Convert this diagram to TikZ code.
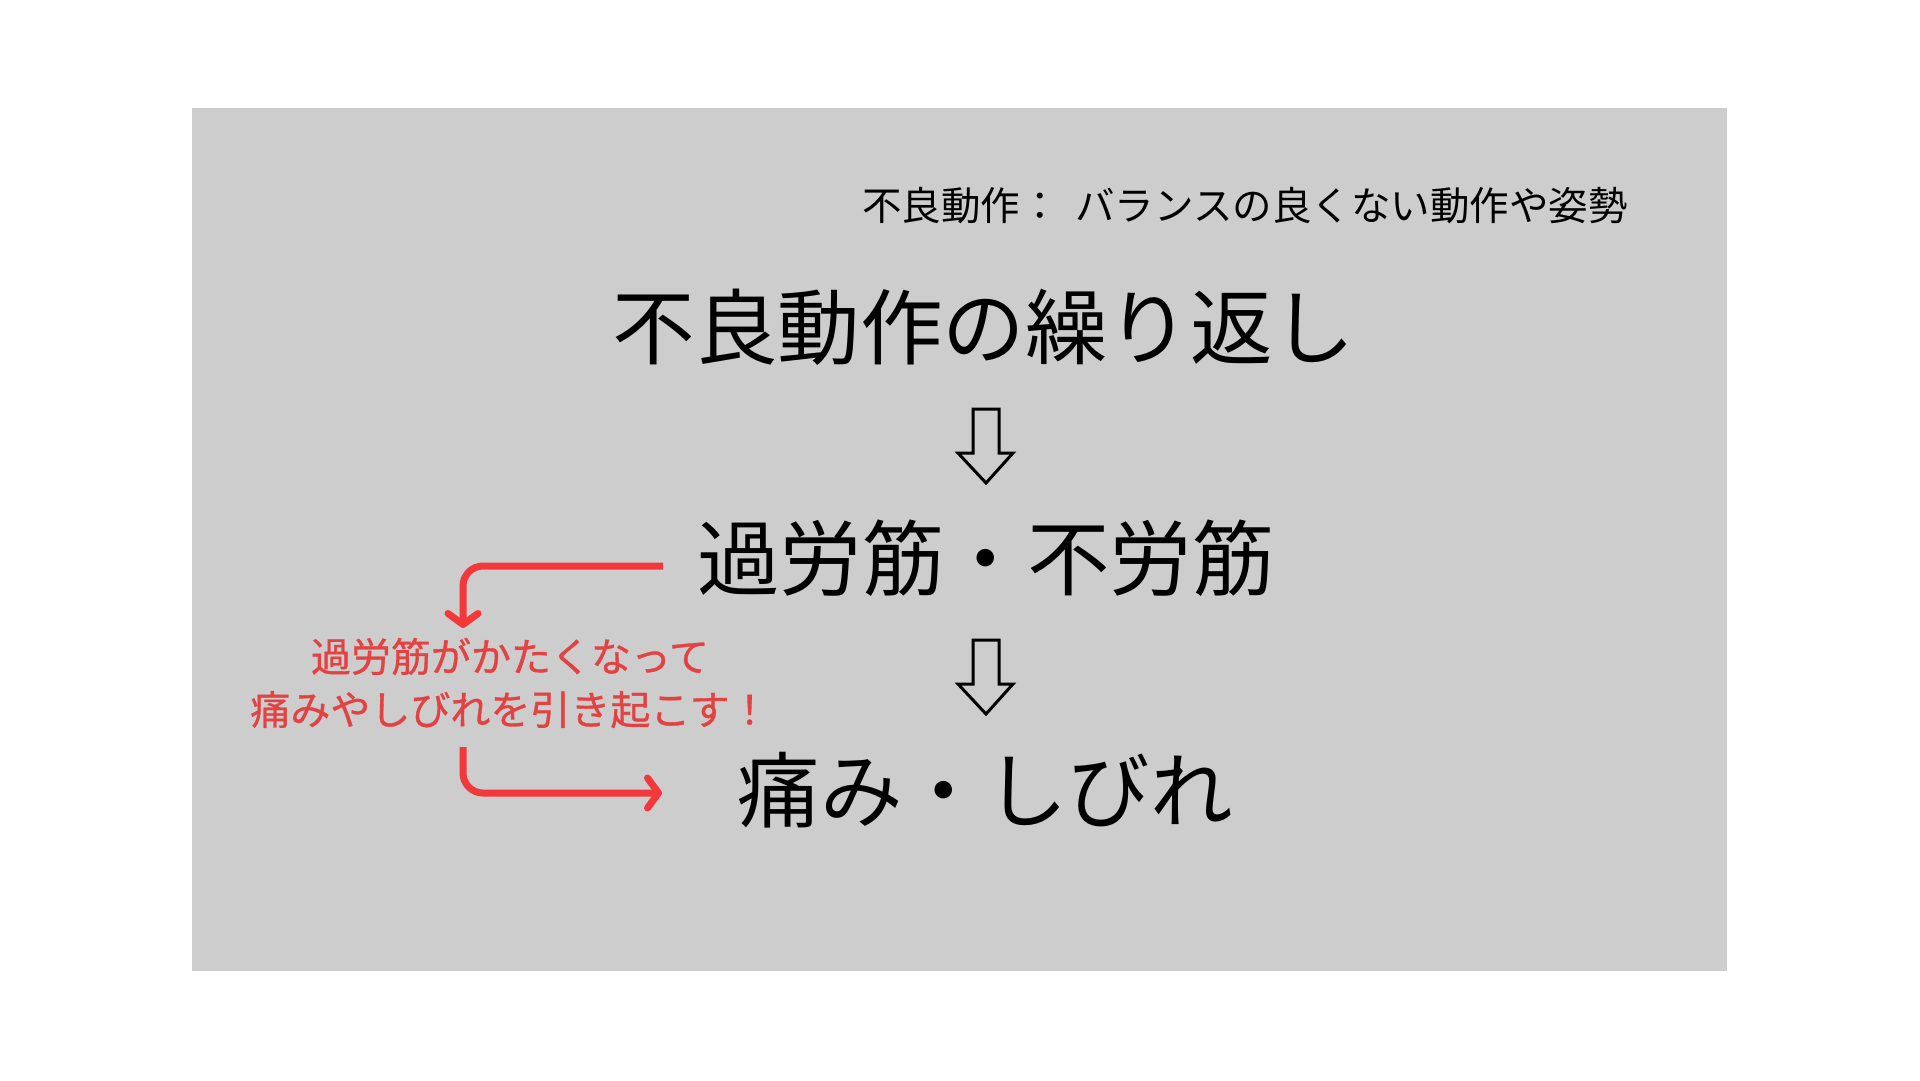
\documentclass[tikz,border=0pt]{standalone}
\usepackage{fontspec}
\setmainfont{Noto Sans CJK JP}
\newfontfamily\jp{Noto Sans CJK JP}
\newfontfamily\jpred[FakeBold=0.8]{Noto Sans CJK JP}
\usetikzlibrary{arrows.meta}
\definecolor{bggray}{RGB}{205,205,205}
\definecolor{arrred}{RGB}{242,56,58}
\definecolor{txtred}{RGB}{226,66,66}
\tikzset{
  jtxt/.style={inner sep=0pt, text=black, font=\jp},
  hollow/.style={draw=black, line width=3pt, fill=bggray, line join=miter},
  redarrow/.style={draw=arrred, line width=7pt, rounded corners=20pt,
    -{Straight Barb[length=11pt,width=30pt,round]}},
}
\begin{document}
\begin{tikzpicture}[x=1pt,y=-1pt]
\useasboundingbox (0,0) rectangle (1920,1080);
\fill[white] (0,0) rectangle (1920,1080);
\fill[bggray] (192,108) rectangle (1727,971);

\node[jtxt, anchor=west, font=\jp\fontsize{39.5}{45}\selectfont] (note) at (862,206) {不良動作：\hspace{0.4em}バランスの良くない動作や姿勢};
\node[jtxt, font=\jp\fontsize{82.5}{90}\selectfont] (title) at (984,327) {不良動作の繰り返し};
\node[jtxt, font=\jp\fontsize{82.5}{90}\selectfont] (mid) at (986,558) {過労筋・不労筋};
\node[jtxt, font=\jp\fontsize{82.5}{90}\selectfont] (bottom) at (985,790) {痛み・しびれ};
\node[jtxt, text=txtred, align=center, font=\jpred\fontsize{40}{53}\selectfont] (redtxt) at (510,683) {過労筋がかたくなって\\痛みやしびれを引き起こす！};

% hollow arrows
\coordinate (a1) at (986,409);
\coordinate (a2) at (986,640);
\foreach \c in {a1,a2}{
  \draw[hollow] ([xshift=-13pt]\c) -- ([xshift=13pt]\c) -- ([xshift=13pt,yshift=-44pt]\c)
    -- ([xshift=27pt,yshift=-44pt]\c) -- ([yshift=-74pt]\c) -- ([xshift=-28pt,yshift=-44pt]\c)
    -- ([xshift=-13pt,yshift=-44pt]\c) -- cycle;
}

% red connectors
\coordinate (r1s) at (663,566);
\coordinate (r1e) at (463,628);
\coordinate (r2s) at (463,747);
\coordinate (r2e) at (662,793);
\draw[redarrow] (r1s) -| (r1e);
\draw[redarrow] (r2s) |- (r2e);
\end{tikzpicture}
\end{document}
